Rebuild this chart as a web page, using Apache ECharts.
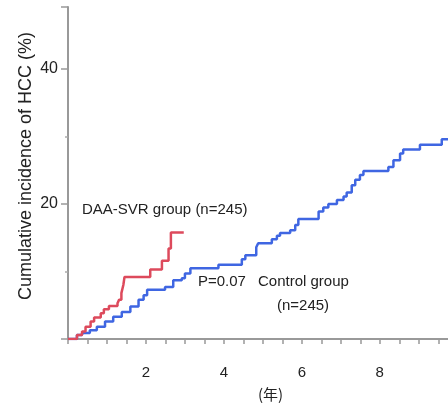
<!DOCTYPE html>
<html>
<head>
<meta charset="utf-8">
<script src="https://cdn.jsdelivr.net/npm/echarts@6/dist/echarts.min.js"></script>
<style>html,body{margin:0;padding:0;background:#fff;}#c{width:448px;height:403px;}</style>
</head>
<body>
<div id="c"></div>
<script>
// Step points: [time (years), cumulative incidence (%) after jump]
const daaSvrTimes  = [0, 0.23, 0.36, 0.45, 0.58, 0.67, 0.84, 0.92, 1.05, 1.27, 1.31, 1.37, 1.42, 1.45, 2.11, 2.41, 2.58, 2.64, 2.97];
const daaSvrValues = [0, 0.6, 1.1, 1.8, 2.6, 3.2, 3.8, 4.4, 4.9, 5.3, 5.8, 6.8, 8.0, 9.2, 10.3, 11.6, 13.4, 15.8, 15.8];
const controlTimes  = [0, 0.23, 0.36, 0.56, 0.74, 0.95, 1.16, 1.38, 1.6, 1.81, 1.94, 2.03, 2.49, 2.7, 2.92, 3.0, 3.14, 3.86, 4.46, 4.55, 4.83, 4.88, 5.23, 5.36, 5.44, 5.7, 5.83, 5.91, 6.43, 6.55, 6.68, 6.9, 7.07, 7.15, 7.28, 7.37, 7.49, 7.58, 8.22, 8.35, 8.52, 8.6, 9.03, 9.59, 9.75];
const controlValues = [0, 0.6, 0.9, 1.3, 1.8, 2.6, 3.3, 4.0, 4.8, 5.8, 6.5, 7.3, 7.7, 8.7, 9.0, 9.7, 10.5, 11.0, 11.8, 12.4, 13.6, 14.2, 14.8, 15.3, 15.7, 16.1, 16.9, 17.8, 18.9, 19.5, 20.0, 20.6, 21.1, 21.7, 22.8, 23.6, 24.3, 24.9, 25.5, 26.5, 27.5, 28.1, 28.8, 29.6, 29.6];
const xTickLabels = [2, 4, 6, 8];
const yTickLabels = [20, 40];

const font = '"Liberation Sans", Arial, Helvetica, sans-serif';
const txt = '#222';
const chart = echarts.init(document.getElementById('c'), null, {renderer: 'canvas'});
chart.setOption({
  animation: false,
  backgroundColor: '#fff',
  grid: {left: 68, right: 0, top: 7, bottom: 64, containLabel: false},
  xAxis: {
    type: 'value', min: 0, max: 9.75, interval: 0.5,
    axisLine: {show: true, lineStyle: {color: '#999', width: 2}},
    axisTick: {show: true, length: 5, lineStyle: {color: '#999', width: 1.5}},
    axisLabel: {
      margin: 26, color: txt, fontSize: 15, fontFamily: font,
      showMaxLabel: false,
      formatter: v => xTickLabels.indexOf(Math.round(v * 100) / 100) >= 0 ? String(v) : ''
    },
    splitLine: {show: false}
  },
  yAxis: {
    type: 'value', min: 0, max: 49.2, interval: 20,
    name: 'Cumulative incidence of HCC (%)', nameLocation: 'middle', nameGap: 33,
    nameMoveOverlap: false,
    nameTextStyle: {color: txt, fontSize: 18, fontFamily: font, padding: [0, 0, 0, 14]},
    axisLine: {show: true, lineStyle: {color: '#999', width: 2}},
    axisTick: {show: true, length: 7, lineStyle: {color: '#999', width: 1.5}},
    minorTick: {show: true, splitNumber: 2, length: 3, lineStyle: {color: '#aaa', width: 1.5}},
    axisLabel: {
      margin: 10, color: txt, fontSize: 16, fontFamily: font,
      formatter: v => yTickLabels.indexOf(v) >= 0 ? String(v) : ''
    },
    splitLine: {show: false}, minorSplitLine: {show: false}
  },
  series: [
    {
      name: 'DAA-SVR group', type: 'line', step: 'end', showSymbol: false,
      data: daaSvrTimes.map((t, i) => [t, daaSvrValues[i]]),
      lineStyle: {color: '#dd4a5c', width: 2.5}, z: 3
    },
    {
      name: 'Control group', type: 'line', step: 'end', showSymbol: false,
      data: controlTimes.map((t, i) => [t, controlValues[i]]),
      lineStyle: {color: '#3f66e2', width: 2.5}, z: 2
    }
  ],
  graphic: [
    {type: 'text', left: 82, top: 202, style: {text: 'DAA-SVR group (n=245)', fill: txt, font: '15px ' + font}},
    {type: 'text', left: 198, top: 274, style: {text: 'P=0.07', fill: txt, font: '15px ' + font}},
    {type: 'text', left: 258, top: 274, style: {text: 'Control group', fill: txt, font: '15px ' + font}},
    {type: 'text', left: 277, top: 298, style: {text: '(n=245)', fill: txt, font: '15px ' + font}},
    {type: 'text', left: 258, top: 387, style: {text: '(年)', fill: txt, font: '15px "Noto Sans CJK JP", ' + font}}
  ]
});
</script>
</body>
</html>
